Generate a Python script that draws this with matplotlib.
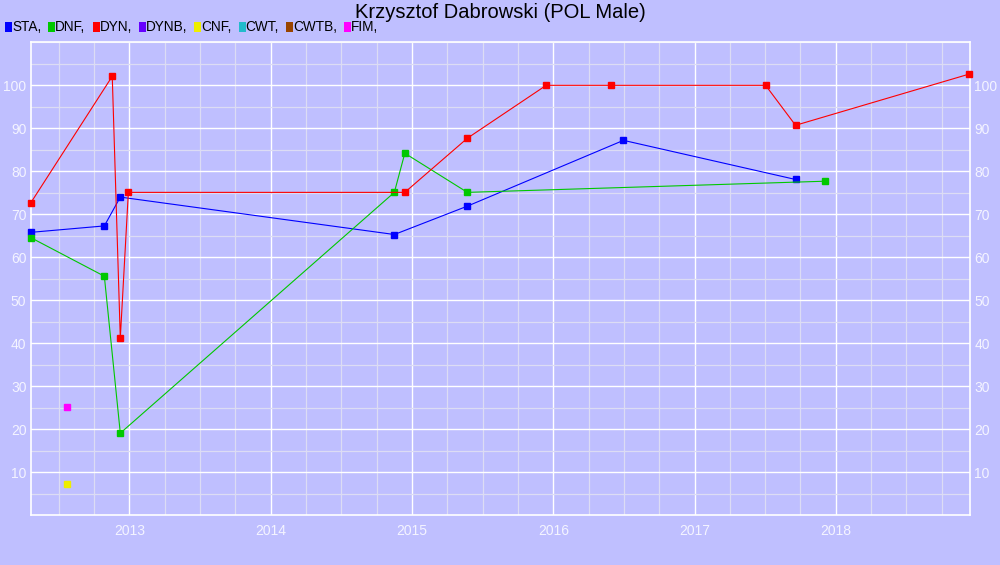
import numpy as np
import matplotlib
matplotlib.use("Agg")
import matplotlib.pyplot as plt
from matplotlib.ticker import MultipleLocator
from matplotlib.patches import Rectangle
from matplotlib import font_manager

title = "Krzysztof Dabrowski (POL Male)"

# dates as decimal years, values as points
sta_x = [2012.300, 2012.822, 2012.935, 2014.875, 2015.392, 2016.497, 2017.715]
sta_y = [65.8, 67.3, 74.0, 65.3, 71.9, 87.2, 78.1]

dnf_x = [2012.300, 2012.822, 2012.935, 2014.875, 2014.949, 2015.392, 2017.926]
dnf_y = [64.6, 55.6, 19.1, 75.1, 84.2, 75.1, 77.7]

dyn_x = [2012.300, 2012.878, 2012.935, 2012.992, 2014.949, 2015.392,
         2015.950, 2016.410, 2017.503, 2017.715, 2018.943]
dyn_y = [72.6, 102.1, 41.2, 75.1, 75.1, 87.7, 100.0, 100.0, 100.0, 90.7, 102.6]

cnf_x = [2012.559]
cnf_y = [7.2]

fim_x = [2012.559]
fim_y = [25.1]

disciplines = ["STA", "DNF", "DYN", "DYNB", "CNF", "CWT", "CWTB", "FIM"]
colors = ["#0000ff", "#00c800", "#ff0000", "#6600ff", "#eeee00",
          "#22bbcc", "#994400", "#ff00ff"]

x_years = [2013, 2014, 2015, 2016, 2017, 2018]
y_ticks = [10, 20, 30, 40, 50, 60, 70, 80, 90, 100]

bg = "#bfbfff"
names = {f.name for f in font_manager.fontManager.ttflist}
tick_font = "Liberation Sans Narrow" if "Liberation Sans Narrow" in names else "Liberation Sans"

fig = plt.figure(figsize=(10, 5.65), dpi=100, facecolor=bg)
ax = fig.add_axes([0.0306, 0.088, 0.9394, 0.8371])
ax.set_facecolor(bg)

ax.set_xlim(2012.30, 2018.95)
ax.set_ylim(0, 110)
ax.set_xticks(x_years)
ax.set_xticklabels([str(y) for y in x_years])
ax.xaxis.set_minor_locator(MultipleLocator(0.25))
ax.set_yticks(y_ticks)
ax.yaxis.set_minor_locator(MultipleLocator(5))
ax.grid(which="major", color="white", linewidth=1.0)
ax.grid(which="minor", color="#dcdcf4", linewidth=0.9)
ax.set_axisbelow(True)
for s in ax.spines.values():
    s.set_color("white")
    s.set_linewidth(1.2)

ax.tick_params(which="both", length=0)
ax.tick_params(axis="both", colors="#f4f4ff", labelsize=10)
ax.tick_params(axis="y", left=False, right=False, labelleft=True, labelright=True, pad=3)
ax.tick_params(axis="x", pad=6)
for lab in ax.get_xticklabels() + ax.get_yticklabels():
    lab.set_fontfamily(tick_font)
for t in ax.yaxis.get_major_ticks():
    t.label2.set_fontfamily(tick_font)

mk = dict(marker="s", markersize=4.3, linewidth=0.8, zorder=4, clip_on=False)
ax.plot(sta_x, sta_y, color=colors[0], **mk)
ax.plot(dnf_x, dnf_y, color=colors[1], **mk)
ax.plot(dyn_x, dyn_y, color=colors[2], **mk)
ax.plot(cnf_x, cnf_y, color=colors[4], linestyle="none", marker="s", markersize=4.3, zorder=4)
ax.plot(fim_x, fim_y, color=colors[7], linestyle="none", marker="s", markersize=4.3, zorder=4)

fig.text(0.5, 0.978, title, ha="center", va="center", fontsize=14.5,
         family="Liberation Sans", color="black")

# legend row along the top
renderer = fig.canvas.get_renderer()
W, H = fig.get_size_inches() * fig.dpi
xpos = 5
ycen = 27
for name, c in zip(disciplines, colors):
    fig.patches.append(Rectangle((xpos / W, 1 - (ycen + 5) / H), 7 / W, 10 / H,
                                 transform=fig.transFigure, facecolor=c,
                                 edgecolor="none"))
    t = fig.text((xpos + 7) / W, 1 - ycen / H, name + ",", ha="left", va="center",
                 fontsize=9.8, family="Liberation Sans", color="black")
    w = t.get_window_extent(renderer).width
    xpos += 7 + w + 7

fig.savefig("out.png", dpi=100, facecolor=bg)
